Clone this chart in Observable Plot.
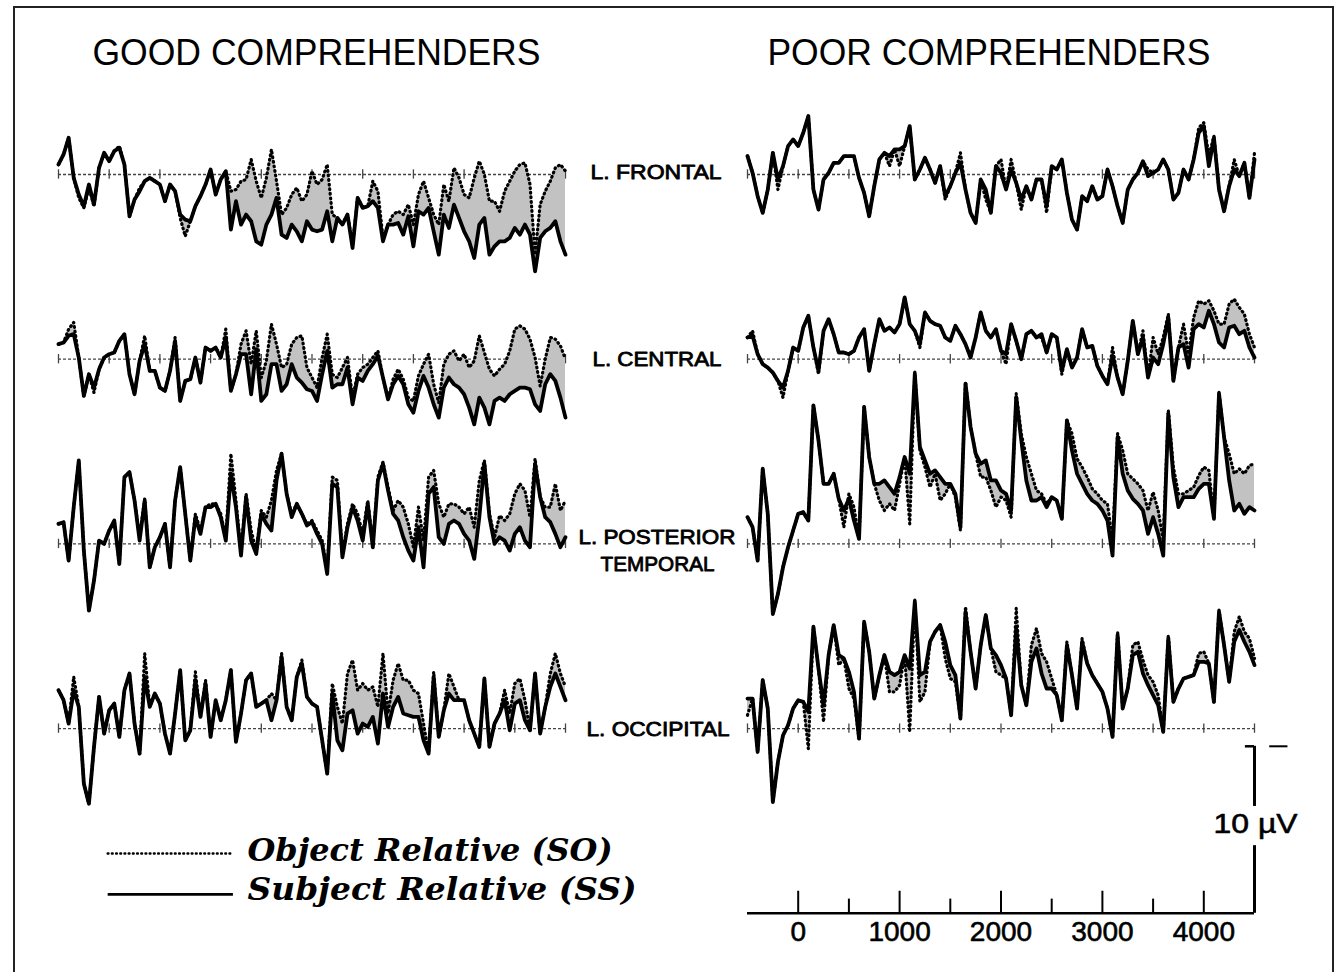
<!DOCTYPE html>
<html><head><meta charset="utf-8">
<script src="https://cdn.jsdelivr.net/npm/d3@7"></script>
<script src="https://cdn.jsdelivr.net/npm/@observablehq/plot@0.6"></script>
<style>
html,body{margin:0;padding:0;background:#fff;}
#wrap{position:relative;width:1336px;height:972px;overflow:hidden;background:#fff;}
#chart{position:absolute;left:0;top:0;}
#frame{position:absolute;left:13px;top:6px;width:1321px;height:1000px;border:2px solid #222;box-sizing:border-box;pointer-events:none;}
</style></head>
<body><div id="wrap"><div id="chart"></div><div id="frame"></div></div>
<script>
// ---- time axis (ms) ----
const timesMs = [-500,-450,-400,-350,-300,-250,-200,-150,-100,-50,0,50,100,150,200,250,300,350,400,450,500,550,600,650,700,750,800,850,900,950,1000,1050,1100,1150,1200,1250,1300,1350,1400,1450,1500,1550,1600,1650,1700,1750,1800,1850,1900,1950,2000,2050,2100,2150,2200,2250,2300,2350,2400,2450,2500,2550,2600,2650,2700,2750,2800,2850,2900,2950,3000,3050,3100,3150,3200,3250,3300,3350,3400,3450,3500,3550,3600,3650,3700,3750,3800,3850,3900,3950,4000,4050,4100,4150,4200,4250,4300,4350,4400,4450,4500];
const groups = ["GOOD COMPREHENDERS", "POOR COMPREHENDERS"];
const sites = ["L. FRONTAL", "L. CENTRAL", "L. POSTERIOR TEMPORAL", "L. OCCIPITAL"];
const baselineTicksMs = [-500,0,500,1000,1500,2000,2500,3000,3500,4000,4500];
const axisTicksMs = [0,500,1000,1500,2000,2500,3000,3500,4000];
const axisTickLabels = ["0","1000","2000","3000","4000"];
const scaleBarUV = 10;

// ---- amplitudes in microvolts (negative plotted up) ----
const goodFrontalSS = [-0.6,-1.2,-2.2,0.2,1.2,1.9,0.6,1.8,-0.4,-1.3,-0.8,-1.4,-1.6,-0.6,2.5,1.5,1.0,0.4,0.2,0.4,0.6,1.6,0.6,1.0,2.4,2.7,2.8,1.9,1.3,0.6,-0.3,1.2,0.3,-0.2,3.3,1.6,3.0,2.4,2.8,4.0,4.2,3.0,2.4,1.4,3.6,3.8,3.0,3.4,4.0,2.8,3.3,3.4,3.3,2.2,4.0,2.6,3.0,2.4,4.4,1.4,2.0,1.9,1.6,2.0,4.0,3.0,3.0,2.9,3.6,2.5,4.3,2.2,2.4,2.0,3.4,4.8,2.4,3.2,1.8,2.6,3.4,4.0,5.0,3.0,2.6,4.8,4.3,4.0,4.0,3.8,3.2,3.6,3.0,3.6,5.8,3.8,3.4,3.2,2.8,4.0,4.8];
const goodFrontalSO = [-0.6,-1.2,-2.2,0.2,1.4,2.0,0.8,1.9,-0.4,-1.3,-0.8,-1.4,-1.7,-0.6,2.5,1.5,0.8,0.4,0.2,0.4,0.6,1.6,0.6,1.0,2.6,3.7,2.8,1.9,1.3,0.6,-0.3,1.2,0.3,-0.2,1.0,0.9,0.4,0.3,-0.9,0.4,1.4,0.2,-1.5,0.4,2.4,2.0,1.2,0.8,1.6,1.2,-0.2,0.6,0.3,-0.6,2.4,2.6,3.0,2.4,4.2,1.4,2.0,1.9,0.4,1.0,3.8,3.0,2.4,2.2,2.4,1.8,3.0,1.2,0.4,1.4,2.4,3.0,0.6,1.6,-0.4,0.2,1.2,1.4,0.2,-0.8,0.0,1.6,1.6,2.2,1.0,0.4,-0.2,-0.6,-0.7,0.6,4.8,1.8,1.0,0.4,-0.4,-0.6,-0.2];
const goodCentralSS = [-0.9,-1.0,-1.4,-1.5,-0.1,2.2,0.9,1.7,0.6,-0.1,-0.3,-0.4,-1.1,-1.5,0.9,2.1,0.1,-0.9,0.7,0.7,1.7,1.9,0.7,-1.1,2.5,1.3,1.2,-0.1,1.4,-0.7,-0.5,-0.7,-0.1,-1.3,1.9,0.9,-0.3,-0.3,2.1,-0.6,2.5,2.1,0.3,0.3,1.9,1.5,0.3,1.1,1.4,1.8,1.9,2.5,0.9,-0.5,1.7,1.5,1.5,0.5,2.7,1.1,1.3,0.7,0.3,-0.2,1.1,2.4,1.5,1.0,1.5,2.7,3.2,1.9,1.0,1.7,2.7,3.5,1.7,1.1,1.5,1.7,2.1,2.9,3.9,2.3,2.9,3.9,2.5,2.3,2.5,2.1,1.9,1.7,1.7,1.8,2.7,3.1,1.5,0.9,1.3,2.3,3.5];
const goodCentralSO = [-0.9,-1.0,-1.8,-2.2,-0.1,2.2,0.9,2.0,0.6,-0.1,-0.3,-0.4,-1.1,-1.5,0.9,2.1,0.1,-1.4,0.7,0.7,1.7,1.9,0.7,-1.3,2.5,1.3,1.2,-0.1,1.4,-0.7,-0.5,-0.7,-0.1,-1.8,1.9,0.9,-0.9,-1.7,0.3,-1.7,1.1,0.1,-2.1,-0.9,0.5,0.3,-0.9,-1.3,-1.4,0.5,1.1,1.7,-0.1,-1.5,0.9,1.1,0.5,-0.1,2.3,0.9,0.5,0.3,-0.1,-0.5,1.1,2.4,1.2,0.6,1.2,2.3,2.5,1.0,0.3,-0.3,1.5,2.6,0.3,-0.3,-0.5,0.1,-0.3,0.5,0.1,-1.4,-0.4,0.6,1.0,0.6,0.3,-0.5,-1.8,-2.0,-1.8,-1.2,-0.1,1.6,0.0,-1.3,-1.2,-0.8,0.0];
const goodTemporalSS = [-1.2,-1.3,1.0,-2.2,-5.0,0.4,4.0,2.2,-0.2,0.0,-0.8,-1.4,1.2,-4.0,-4.3,-2.6,-0.2,-2.6,1.4,0.2,-0.4,-1.2,1.4,-2.6,-4.6,-1.8,1.0,-1.6,-0.6,-2.2,-2.2,-2.4,-1.6,-0.2,-4.2,-2.2,0.7,-2.8,-0.2,0.6,-1.8,-1.2,-0.8,-3.8,-5.4,-3.0,-1.6,-2.4,-1.8,-1.1,-1.3,-0.6,0.0,1.8,-3.6,-3.4,0.8,-1.0,-2.2,-1.4,-0.2,-2.4,0.2,-3.8,-4.8,-3.2,-1.8,-1.4,-0.4,0.4,1.0,-1.0,1.4,-3.0,-3.4,-0.4,0.0,-1.2,-1.4,-1.2,-0.6,-0.2,0.9,-1.6,-4.8,-1.6,0.0,-0.4,-0.2,0.4,-0.6,-1.0,-0.2,0.2,-4.8,-2.8,-1.6,-1.3,-0.6,0.2,-0.4];
const goodTemporalSO = [-1.2,-1.3,1.0,-2.2,-5.0,0.4,4.0,2.2,-0.2,0.0,-0.8,-1.4,1.2,-4.0,-4.3,-2.6,-0.4,-2.7,1.4,0.2,-0.4,-1.2,1.4,-2.6,-4.6,-1.8,1.0,-1.8,-0.8,-2.2,-2.4,-2.4,-1.8,-0.4,-5.4,-2.6,0.5,-3.0,-0.8,0.4,-2.0,-1.6,-2.6,-4.4,-5.4,-3.0,-1.8,-2.4,-1.8,-1.2,-1.4,-0.8,-0.2,1.6,-4.0,-3.8,0.6,-1.2,-2.4,-1.8,-0.6,-2.6,0.0,-4.0,-4.9,-3.4,-2.0,-2.6,-2.2,-1.2,0.2,-2.2,-0.2,-4.0,-4.4,-2.4,-1.6,-2.4,-2.4,-2.2,-1.8,-2.2,-1.0,-3.8,-5.0,-1.8,-0.4,-1.7,-1.4,-1.8,-3.0,-3.6,-3.2,-1.6,-5.1,-2.8,-2.2,-2.2,-3.6,-2.0,-2.6];
const goodOccipitalSS = [-2.3,-1.7,-0.3,-2.3,-1.3,3.3,4.5,1.1,-1.9,0.3,-1.1,-1.5,0.5,-2.3,-3.3,-0.3,1.5,-3.1,-1.3,-2.1,-1.5,0.3,1.5,-0.9,-3.5,0.7,0.1,-2.9,-0.7,-2.7,0.5,-1.7,-0.5,-1.7,-3.5,0.8,-0.9,-2.9,-3.3,-1.3,-1.5,-1.7,-0.5,-1.7,-4.3,-1.3,-0.5,-3.1,-3.9,-1.9,-1.5,-1.3,0.7,2.7,-2.1,0.7,1.3,-0.9,-1.1,0.3,-0.3,-0.1,-0.7,0.9,-2.1,-0.1,-1.3,-1.9,-0.9,-0.8,-0.7,-0.7,0.7,1.5,-3.1,0.5,-1.1,-2.1,-1.7,-1.7,-1.7,-0.5,0.3,1.1,-3.0,1.1,-0.3,-0.9,-1.7,0.1,-1.5,-1.7,-0.5,0.1,-3.3,0.3,-1.3,-2.5,-3.3,-2.5,-1.7];
const goodOccipitalSO = [-2.3,-1.7,-0.3,-3.1,-1.3,3.3,4.5,1.1,-1.9,0.3,-1.1,-1.5,0.5,-2.3,-3.3,-0.3,1.5,-4.5,-1.3,-2.1,-1.5,0.3,1.5,-0.9,-3.5,0.7,0.1,-3.4,-0.7,-2.9,0.5,-1.7,-0.5,-1.7,-3.5,0.8,-0.9,-2.9,-3.3,-1.3,-1.5,-1.7,-2.1,-1.7,-4.5,-1.3,-0.5,-3.1,-4.1,-1.9,-1.5,-1.3,0.7,2.7,-2.7,-1.3,-0.3,-3.3,-4.1,-2.3,-2.7,-2.3,-2.5,-1.3,-4.5,-0.9,-2.9,-3.9,-2.9,-2.9,-2.3,-2.1,-0.3,1.5,-3.4,0.5,-1.1,-3.3,-2.5,-1.7,-1.7,-0.5,0.3,1.1,-3.0,1.1,-0.3,-0.9,-2.3,-0.9,-2.7,-3.0,-1.7,0.1,-3.3,0.3,-1.3,-3.3,-4.5,-3.3,-2.5];
const poorFrontalSS = [-1.1,-0.1,1.3,2.3,0.9,-1.3,0.3,-0.5,-1.7,-2.1,-1.7,-2.5,-3.5,0.9,2.1,0.3,-0.1,-0.7,-0.7,-1.1,-1.1,-1.1,0.2,1.1,2.5,0.7,-0.9,-1.3,-1.1,-1.5,-1.5,-1.7,-2.9,0.3,-0.3,-1.0,-0.3,0.5,-0.5,1.3,0.7,-0.1,-0.7,0.9,2.3,2.9,0.3,0.9,2.3,-0.5,-0.1,0.9,-0.3,0.5,1.5,0.7,1.5,0.3,0.3,1.9,-0.5,-0.3,-0.9,1.1,2.7,3.3,1.3,1.6,0.7,1.5,1.3,-0.3,0.7,1.9,2.9,0.9,0.3,-0.1,-0.8,0.1,-0.1,-0.3,-0.9,-0.3,1.5,1.1,-0.3,0.3,-0.9,-2.5,-2.9,-0.5,-2.2,0.9,2.2,0.7,-0.3,0.1,-0.7,1.4,-0.9];
const poorFrontalSO = [-1.1,-0.1,1.3,2.3,0.9,-1.3,0.9,-0.5,-1.7,-2.1,-1.7,-2.5,-3.5,0.9,2.1,0.3,-0.1,-0.7,-0.7,-1.1,-1.1,-1.1,0.2,1.1,2.5,0.7,-0.9,-1.3,-0.5,-1.5,-0.5,-1.7,-2.9,0.3,-0.3,-1.0,-0.3,0.5,-0.5,1.5,0.7,-0.1,-1.3,0.9,2.3,2.9,0.3,1.5,2.3,-0.5,-0.9,0.9,-0.9,0.5,2.1,0.7,1.5,0.3,0.3,2.3,-0.5,-0.3,-0.9,1.1,2.7,3.3,1.3,1.6,0.7,1.5,1.3,-0.3,0.7,1.9,2.9,0.9,0.3,-0.1,-0.8,-0.3,-0.1,-0.3,-0.9,-0.3,1.5,1.1,-0.3,0.3,-0.9,-2.8,-3.1,-1.1,-2.3,0.9,2.2,0.7,-0.9,0.1,-0.7,1.4,-1.3];
const poorCentralSS = [-1.3,-1.4,-0.3,0.3,0.5,0.8,1.3,1.7,0.7,-0.7,-0.5,-1.9,-2.6,-0.7,0.7,-1.7,-2.4,-1.5,-0.4,-0.4,-0.3,-0.5,-1.3,-1.8,0.7,-0.9,-2.4,-1.7,-1.9,-1.6,-2.1,-3.7,-2.1,-1.7,-0.9,-2.8,-2.3,-2.1,-2.0,-1.3,-1.1,-2.0,-1.5,-0.9,-0.1,-1.3,-2.8,-1.7,-1.3,-1.8,-0.5,-0.3,-2.1,-1.1,0.0,-1.5,-1.7,-1.3,-1.5,-0.4,-1.5,-1.3,0.7,-0.6,0.5,-0.1,-1.8,-0.7,-0.8,0.4,1.0,1.5,-0.2,1.1,2.1,0.1,-2.3,-0.3,-1.3,1.1,-0.1,0.3,-0.9,-2.5,1.3,-0.7,-0.9,0.5,-1.8,-2.1,-1.9,-2.9,-2.1,-1.0,-0.7,-1.9,-2.0,-1.5,-1.7,-0.7,-0.1];
const poorCentralSO = [-1.3,-1.7,-0.3,0.3,0.5,0.8,1.3,2.3,0.7,-0.7,-0.5,-1.9,-2.6,-0.7,0.9,-1.7,-2.4,-1.5,-0.4,-0.4,-0.3,-0.5,-1.3,-1.8,0.7,-0.9,-2.4,-1.7,-1.9,-1.6,-2.1,-3.7,-2.1,-1.7,-0.7,-2.8,-2.3,-2.1,-2.0,-1.3,-1.1,-2.0,-1.5,-0.9,-0.1,-1.3,-2.8,-1.7,-1.3,-1.8,-0.5,0.3,-2.1,-1.1,0.0,-1.5,-1.7,-1.3,-1.3,-0.4,-1.5,-1.3,0.9,-0.6,0.5,-0.1,-1.8,-0.7,-0.8,0.4,1.0,1.5,-0.7,1.1,2.1,0.1,-2.3,-0.3,-1.7,1.1,-1.3,-0.3,-1.3,-2.7,1.3,-0.7,-2.1,-0.3,-2.5,-3.5,-3.3,-3.5,-2.9,-2.1,-2.1,-3.3,-3.6,-3.1,-2.7,-1.5,-0.7];
const poorTemporalSS = [-1.6,-1.0,1.0,-4.5,-1.8,4.2,3.0,1.4,0.2,-0.8,-1.8,-1.9,-1.4,-8.3,-6.2,-3.6,-3.6,-4.2,-2.7,-2.0,-2.7,-1.4,-0.3,-8.2,-5.2,-3.6,-3.6,-3.8,-3.4,-3.0,-4.0,-5.2,-4.2,-10.2,-5.8,-5.0,-4.2,-4.4,-4.0,-3.6,-3.6,-3.0,-1.0,-9.6,-7.0,-5.4,-4.8,-5.0,-3.8,-3.8,-3.2,-3.0,-2.0,-8.8,-6.2,-3.8,-2.6,-2.6,-2.8,-2.2,-2.8,-2.6,-1.5,-7.4,-5.6,-4.2,-3.6,-3.0,-2.6,-2.4,-2.0,-1.4,0.7,-6.4,-4.2,-3.2,-2.7,-2.4,-2.0,-0.6,-1.6,-0.6,0.7,-7.8,-4.0,-2.2,-2.8,-2.8,-2.8,-3.3,-3.6,-3.6,-1.5,-9.0,-6.4,-3.8,-2.0,-2.4,-1.8,-2.2,-2.0];
const poorTemporalSO = [-1.6,-1.0,1.0,-4.5,-1.8,4.2,3.0,1.4,0.2,-0.8,-1.8,-1.9,-1.4,-8.3,-6.2,-3.6,-3.6,-4.2,-2.7,-1.0,-3.0,-2.2,-0.3,-8.2,-5.2,-3.6,-2.6,-2.0,-2.4,-2.0,-3.6,-5.2,-1.2,-10.3,-5.6,-4.6,-3.4,-4.2,-2.6,-3.0,-3.6,-2.8,-0.8,-9.7,-7.0,-5.4,-4.0,-4.0,-3.2,-2.2,-2.8,-2.6,-1.6,-9.0,-6.6,-5.2,-4.2,-3.2,-3.0,-2.4,-2.8,-2.6,-1.5,-7.4,-6.6,-5.1,-4.6,-4.0,-3.3,-3.0,-2.6,-2.4,-0.2,-6.6,-5.6,-4.2,-3.9,-3.6,-3.2,-2.0,-3.1,-2.0,-0.2,-8.0,-4.6,-3.0,-3.0,-3.2,-3.4,-4.1,-4.6,-4.4,-1.5,-9.1,-6.4,-5.4,-4.2,-4.5,-4.2,-4.7,-4.8];
const poorOccipitalSS = [-1.8,-1.8,1.4,-2.9,-1.2,4.4,2.0,0.4,-0.2,-1.2,-1.7,-1.6,-1.0,-6.1,-3.6,-1.4,-4.4,-6.2,-4.4,-4.2,-3.4,-2.2,0.6,-6.4,-4.6,-1.8,-3.2,-4.4,-3.4,-3.2,-3.4,-4.4,-3.6,-7.6,-3.2,-3.4,-5.2,-5.8,-6.2,-5.2,-3.8,-3.2,-0.6,-7.0,-4.6,-2.4,-5.0,-6.8,-4.8,-4.4,-3.8,-3.0,-0.8,-6.0,-2.6,-1.4,-4.0,-4.8,-3.3,-2.4,-2.4,-2.0,-0.5,-5.0,-3.2,-1.2,-5.2,-3.9,-3.2,-2.7,-2.2,-1.2,0.5,-5.6,-1.2,-2.4,-4.4,-4.6,-3.3,-2.6,-2.0,-1.4,0.2,-5.4,-1.6,-2.4,-3.0,-3.1,-3.2,-4.0,-4.0,-3.9,-1.6,-7.0,-5.0,-2.8,-5.2,-5.9,-5.2,-4.6,-3.8];
const poorOccipitalSO = [-0.8,-1.8,1.4,-2.9,-1.2,4.4,2.0,0.4,-0.2,-1.2,-1.7,-1.6,1.2,-6.1,-3.6,-0.4,-4.4,-6.2,-3.8,-4.2,-2.4,-1.8,0.6,-6.4,-4.6,-1.8,-3.2,-4.4,-2.2,-2.2,-2.6,-4.4,0.2,-7.7,-1.6,-2.2,-5.2,-5.8,-6.2,-4.2,-3.0,-2.8,-0.6,-7.3,-4.6,-2.4,-5.0,-6.8,-4.8,-3.4,-3.2,-3.0,-0.8,-7.2,-2.6,-1.4,-5.0,-6.0,-4.5,-4.0,-3.0,-2.0,-0.5,-5.2,-3.2,-1.2,-5.4,-3.9,-3.2,-2.7,-2.2,-1.2,0.5,-5.8,-1.2,-2.4,-5.0,-5.2,-4.1,-3.2,-2.8,-2.0,0.2,-5.6,-1.6,-2.4,-3.0,-3.1,-3.2,-4.5,-4.6,-3.9,-1.6,-7.1,-5.0,-2.8,-5.8,-6.7,-5.8,-5.4,-4.2];

// ---- assemble ----
const SCALE_ROW = "SCALE";
const panels = [
  {group: groups[0], site: sites[0], so: goodFrontalSO, ss: goodFrontalSS},
  {group: groups[0], site: sites[1], so: goodCentralSO, ss: goodCentralSS},
  {group: groups[0], site: sites[2], so: goodTemporalSO, ss: goodTemporalSS},
  {group: groups[0], site: sites[3], so: goodOccipitalSO, ss: goodOccipitalSS},
  {group: groups[1], site: sites[0], so: poorFrontalSO, ss: poorFrontalSS},
  {group: groups[1], site: sites[1], so: poorCentralSO, ss: poorCentralSS},
  {group: groups[1], site: sites[2], so: poorTemporalSO, ss: poorTemporalSS},
  {group: groups[1], site: sites[3], so: poorOccipitalSO, ss: poorOccipitalSS}
];
const rows = panels.flatMap(p => {
  const n = Math.min(timesMs.length, p.so.length, p.ss.length);
  return timesMs.slice(0, n).map((t, i) => ({group: p.group, site: p.site, t, so: p.so[i], ss: p.ss[i]}));
});
const tickRows = panels.flatMap(p => baselineTicksMs.map(t => ({group: p.group, site: p.site, t})));
const axisRows = axisTicksMs.map(t => ({group: groups[1], site: SCALE_ROW, t, major: t % 1000 === 0}));
const axisLabelRows = axisTickLabels.map(s => ({group: groups[1], site: SCALE_ROW, t: +s, label: s}));

// text layout (positions in data units of each facet)
const titleRows = [
  {group: groups[0], site: sites[0], label: groups[0], x: -165, y: -7.25},
  {group: groups[1], site: sites[0], label: groups[1], x: -303, y: -7.25}
];
const siteLabelRows = [
  {group: groups[0], site: sites[0], label: "L. FRONTAL", x: 4747, y: -0.1},
  {group: groups[0], site: sites[1], label: "L. CENTRAL", x: 4766, y: 0.0},
  {group: groups[0], site: sites[2], label: "L. POSTERIOR", x: 4628, y: -0.4},
  {group: groups[0], site: sites[2], label: "TEMPORAL", x: 4845, y: 1.25},
  {group: groups[0], site: sites[3], label: "L. OCCIPITAL", x: 4707, y: 0.05}
];
const legendSO = [{group: groups[0], site: SCALE_ROW, label: "Object Relative (SO)", ly: -3.58, ty: -3.70}];
const legendSS = [{group: groups[0], site: SCALE_ROW, label: "Subject Relative (SS)", ly: -1.13, ty: -1.37}];
const scaleRow = [{group: groups[1], site: SCALE_ROW}];

const pxPerUV = 16.7, rowStep = 184.7, baseFromTop = 150;
const yTop = -baseFromTop / pxPerUV, yBottom = (rowStep - baseFromTop) / pxPerUV;

const common = {fx: "group", fy: "site"};
const sansFont = "Liberation Sans, Arial, sans-serif";
const dotted = {stroke: "#000", strokeWidth: 3.2, strokeDasharray: "0.8,3.8", strokeLinecap: "round", strokeLinejoin: "round"};
const chart = Plot.plot({
  width: 1336, height: 972,
  marginLeft: 58, marginRight: 82, marginTop: 24, marginBottom: 24.5,
  style: {background: "transparent", overflow: "visible", fontFamily: sansFont},
  fx: {domain: groups, axis: null, paddingInner: 1 - 507/689, paddingOuter: 0, round: false},
  fy: {domain: [...sites, SCALE_ROW], axis: null, paddingInner: 0, paddingOuter: 0, round: false},
  x: {domain: [-500, 4500], axis: null},
  y: {domain: [yBottom, yTop], axis: null},
  marks: [
    // baselines with 500 ms ticks
    Plot.ruleY(panels, {...common, y: 0, x1: -500, x2: 4500, stroke: "#444", strokeWidth: 1.3, strokeDasharray: "3,2"}),
    Plot.ruleX(tickRows, {...common, x: "t", y1: -0.28, y2: 0.28, stroke: "#444", strokeWidth: 1.3}),
    // shaded difference
    Plot.areaY(rows, {...common, x: "t", y1: "so", y2: "ss", fill: "#c2c2c2"}),
    // object relative (dotted)
    Plot.line(rows, {...common, x: "t", y: "so", ...dotted}),
    // subject relative (solid)
    Plot.line(rows, {...common, x: "t", y: "ss", stroke: "#000", strokeWidth: 3.8, strokeLinejoin: "round"}),
    // titles
    Plot.text(titleRows, {...common, x: "x", y: "y", text: "label", textAnchor: "start", fontSize: 37, fill: "#000", fontFamily: sansFont}),
    // site labels
    Plot.text(siteLabelRows, {...common, x: "x", y: "y", text: "label", textAnchor: "start", fontSize: 20, fill: "#000", stroke: "#000", strokeWidth: 0.8, fontFamily: sansFont}),
    // legend
    Plot.ruleY(legendSO, {...common, y: "ly", x1: -10, x2: 1225, ...dotted, strokeWidth: 2.4, strokeDasharray: "0.8,3.4"}),
    Plot.ruleY(legendSS, {...common, y: "ly", x1: -10, x2: 1225, stroke: "#000", strokeWidth: 2.8}),
    Plot.text([...legendSO, ...legendSS], {...common, x: 1364, y: "ty", text: "label", textAnchor: "start", fontSize: 31, fontWeight: "bold", fontStyle: "italic", fill: "#000", fontFamily: "DejaVu Serif, Liberation Serif, serif"}),
    // time axis scale bar
    Plot.ruleY(scaleRow, {...common, y: 0, x1: -500, x2: 4500, stroke: "#000", strokeWidth: 2.5}),
    Plot.ruleX(axisRows, {...common, x: "t", y1: 0, y2: d => d.major ? -1.32 : -0.85, stroke: "#000", strokeWidth: 2}),
    Plot.text(axisLabelRows, {...common, x: "t", y: 1.1, text: "label", fontSize: 28, fill: "#000", stroke: "#000", strokeWidth: 0.6, fontFamily: sansFont}),
    // amplitude scale bar (10 µV, negative up)
    Plot.ruleX(scaleRow, {...common, x: 4500, y1: 0, y2: -4.05, stroke: "#000", strokeWidth: 3}),
    Plot.ruleX(scaleRow, {...common, x: 4500, y1: -6.4, y2: -scaleBarUV, stroke: "#000", strokeWidth: 3}),
    Plot.ruleY(scaleRow, {...common, y: -scaleBarUV, x1: 4410, x2: 4500, stroke: "#000", strokeWidth: 2.5}),
    Plot.ruleY(scaleRow, {...common, y: -scaleBarUV, x1: 4650, x2: 4830, stroke: "#000", strokeWidth: 2}),
    Plot.text(scaleRow, {...common, x: 4096, y: -5.32, text: () => `${scaleBarUV} µV`, textAnchor: "start", fontSize: 28, fill: "#000", stroke: "#000", strokeWidth: 0.6, fontFamily: sansFont})
  ]
});
document.getElementById("chart").appendChild(chart);

// fit text widths to the reference
const widths = new Map([
  ["GOOD COMPREHENDERS", 448], ["POOR COMPREHENDERS", 443],
  ["L. FRONTAL", 131], ["L. CENTRAL", 129], ["L. POSTERIOR", 157], ["TEMPORAL", 114], ["L. OCCIPITAL", 143],
  ["Object Relative (SO)", 365], ["Subject Relative (SS)", 389], ["10 µV", 84]
]);
d3.select(chart).selectAll("text").each(function() {
  const w = widths.get(this.textContent);
  if (w) { this.setAttribute("textLength", w); this.setAttribute("lengthAdjust", "spacingAndGlyphs"); }
});
</script>
</body></html>
